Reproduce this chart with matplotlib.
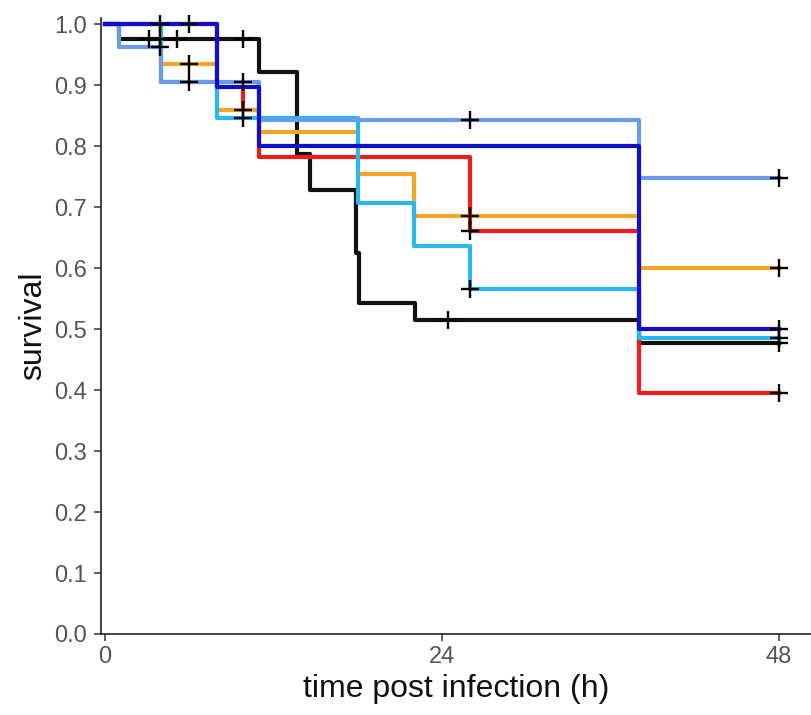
#plot.py - Kaplan-Meier style survival curves (step plot with censor marks)

#Section1: Imports
import numpy as np
import matplotlib.pyplot as plt

plt.rcParams['font.family'] = ['Liberation Sans', 'DejaVu Sans']

#Section2: Data (time in hours, survival fraction)
black_t = [0, 1, 11, 13.7, 14.6, 17.9, 18.1, 22.1, 38, 48]
black_s = [1.0, 0.976, 0.921, 0.787, 0.728, 0.625, 0.542, 0.515, 0.477, 0.477]
black_cens = [3.1, 3.9, 5.1, 9.8, 24.4, 48]

red_t = [0, 8, 9.8, 11, 26, 38, 48]
red_s = [1.0, 0.897, 0.859, 0.782, 0.660, 0.395, 0.395]
red_cens = [26, 48]

orange_t = [0, 4, 8, 11, 18, 22, 38, 48]
orange_s = [1.0, 0.935, 0.859, 0.823, 0.755, 0.686, 0.600, 0.600]
orange_cens = [6.0, 9.8, 26, 48]

cyan_t = [0, 4, 8, 18, 22, 26, 38, 48]
cyan_s = [1.0, 0.905, 0.846, 0.707, 0.636, 0.565, 0.485, 0.485]
cyan_cens = [6.0, 9.8, 26, 48]

cornflower_t = [0, 1, 4, 11, 38, 48]
cornflower_s = [1.0, 0.962, 0.905, 0.842, 0.748, 0.748]
cornflower_cens = [3.9, 9.8, 26, 48]

darkblue_t = [0, 8, 11, 38, 48]
darkblue_s = [1.0, 0.897, 0.800, 0.500, 0.500]
darkblue_cens = [3.9, 6.0, 48]

curves = [
    (black_t, black_s, black_cens, '#111111'),
    (red_t, red_s, red_cens, '#EE1C1C'),
    (orange_t, orange_s, orange_cens, '#F2A526'),
    (cyan_t, cyan_s, cyan_cens, '#29B8EE'),
    (cornflower_t, cornflower_s, cornflower_cens, '#6A9BE6'),
    (darkblue_t, darkblue_s, darkblue_cens, '#1010C8'),
]

#Section3: Create the plot
fig = plt.figure(figsize=(8.11, 7.15), dpi=100)
ax = fig.add_axes([0.1245, 0.1133, 0.8755, 0.8615])

for times, surv, cens, color in curves:
    ax.step(times, surv, where='post', color=color, linewidth=3.0, zorder=2)
    # survival value at each censor time (step function, right-continuous)
    idx = np.searchsorted(times, cens, side='right') - 1
    cens_y = np.array(surv)[idx]
    ax.plot(cens, cens_y, '+', color='black', markersize=13,
            markeredgewidth=1.7, zorder=3, clip_on=False)

#SECTION4: Style the plot
ax.set_xlim(-0.285, 50.28)
ax.set_ylim(0, 1.01)
ax.set_xticks([0, 24, 48])
ax.set_yticks(np.arange(0, 1.01, 0.1))
ax.set_yticklabels([f'{v:.1f}' for v in np.arange(0, 1.01, 0.1)])

for side in ['top', 'right']:
    ax.spines[side].set_visible(False)
for side in ['left', 'bottom']:
    ax.spines[side].set_linewidth(1.2)
    ax.spines[side].set_color('#222222')

ax.tick_params(axis='both', direction='out', length=5, width=1.1,
               color='#333333', labelcolor='#555555', labelsize=17)
ax.tick_params(axis='x', pad=4)
ax.tick_params(axis='y', pad=5)

ax.set_xlabel('time post infection (h)', fontsize=23, color='#111111', labelpad=4)
ax.set_ylabel('survival', fontsize=23, color='#111111', labelpad=4)

#SECTION5: Save
fig.savefig('out.png', dpi=100)
